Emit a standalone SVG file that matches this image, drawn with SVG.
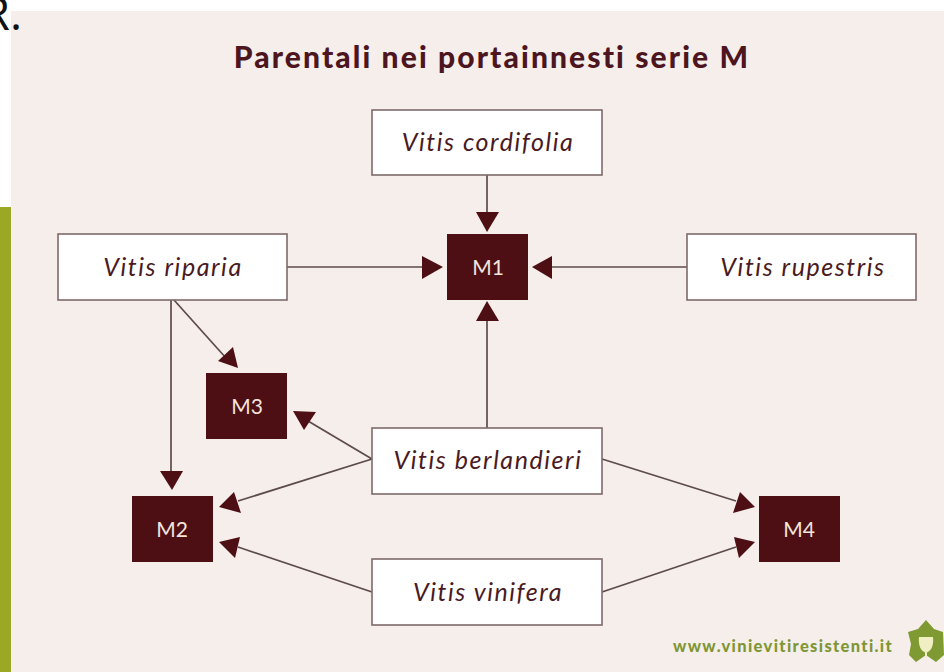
<svg xmlns="http://www.w3.org/2000/svg" width="944" height="672" viewBox="0 0 944 672">
<style>
.sp{fill:#fff;stroke:#7d6a6a;stroke-width:1.6}
.m{fill:#4d0f14}
.st{font-family:"Lato","Liberation Sans",sans-serif;font-style:italic;font-size:25px;letter-spacing:1.55px;fill:#4a1a22;text-anchor:middle}
.mt{font-family:"Lato","Liberation Sans",sans-serif;font-size:21px;fill:#f3e4dc;text-anchor:middle}
.c{stroke:#5d4a4a;stroke-width:1.7;fill:none}
.a{fill:#4d0f14;stroke:none}
</style>
<rect width="944" height="672" fill="#fff"/>
<rect x="11" y="11" width="933" height="661" fill="#f5eeeb"/>
<rect x="0" y="207" width="11" height="465" fill="#9aa823"/>
<text x="22" y="30" font-family="'Open Sans','Liberation Sans',sans-serif" font-size="46" fill="#111" text-anchor="end">R.</text>
<text id="title" x="492" y="68" font-family="'Lato','Liberation Sans',sans-serif" font-weight="900" font-size="30" letter-spacing="2.1" fill="#4d1520" text-anchor="middle">Parentali nei portainnesti serie M</text>
<g id="connectors">
<path class="c" d="M487 175V214"/><polygon class="a" points="476,212 499,212 487,232"/>
<path class="c" d="M287 267H424"/><polygon class="a" points="422,256 422,279 443,267"/>
<path class="c" d="M687 267H550"/><polygon class="a" points="552,256 552,279 532,267"/>
<path class="c" d="M487 428V320"/><polygon class="a" points="476,321 499,321 487,301"/>
<path class="c" d="M171 300V473"/><polygon class="a" points="160,471 183,471 172,490"/>
<path class="c" d="M174 300L226 358"/><polygon class="a" points="233,347 218,361 238,368"/>
<path class="c" d="M372 459L308 421"/><polygon class="a" points="293,411 316,412 304,430"/>
<path class="c" d="M372 459L238 501"/><polygon class="a" points="219,507 234,492 241,513"/>
<path class="c" d="M372 592L238 547"/><polygon class="a" points="219,542 240,537 235,558"/>
<path class="c" d="M602 459L736 501"/><polygon class="a" points="755,507 740,492 733,513"/>
<path class="c" d="M602 592L736 547"/><polygon class="a" points="755,542 734,537 739,558"/>
</g>
<g id="cordifolia"><rect class="sp" x="372" y="110" width="230" height="65"/><text class="st" x="488" y="151">Vitis cordifolia</text></g>
<g id="riparia"><rect class="sp" x="58" y="234" width="229" height="66"/><text class="st" x="173" y="276">Vitis riparia</text></g>
<g id="rupestris"><rect class="sp" x="687" y="234" width="229" height="66"/><text class="st" x="803" y="276">Vitis rupestris</text></g>
<g id="berlandieri"><rect class="sp" x="372" y="428" width="230" height="66"/><text class="st" x="488" y="469">Vitis berlandieri</text></g>
<g id="vinifera"><rect class="sp" x="372" y="559" width="230" height="66"/><text class="st" x="488" y="601">Vitis vinifera</text></g>
<g id="M1"><rect class="m" x="447" y="234" width="81" height="66"/><text class="mt" x="488" y="275">M1</text></g>
<g id="M2"><rect class="m" x="132" y="496" width="81" height="66"/><text class="mt" x="172" y="537">M2</text></g>
<g id="M3"><rect class="m" x="206" y="373" width="81" height="66"/><text class="mt" x="247" y="414">M3</text></g>
<g id="M4"><rect class="m" x="759" y="496" width="81" height="66"/><text class="mt" x="799" y="537">M4</text></g>
<text x="783" y="652" font-family="'Lato','Liberation Sans',sans-serif" font-weight="900" font-size="16.5" letter-spacing="1.35" fill="#7f9634" text-anchor="middle">www.vinievitiresistenti.it</text>
<g id="logo">
<path d="M926 620L934 629L943 632L944 655L936 662L926 655L916 662L909 655L911 644L908 632L918 629Z" fill="#7f9a32"/>
<path d="M919 637H933C934 646 931 651 926 653C921 651 918 646 919 637Z" fill="#f0efc4"/>
<rect x="925" y="652" width="2" height="5" fill="#f0efc4"/>
</g>
</svg>
